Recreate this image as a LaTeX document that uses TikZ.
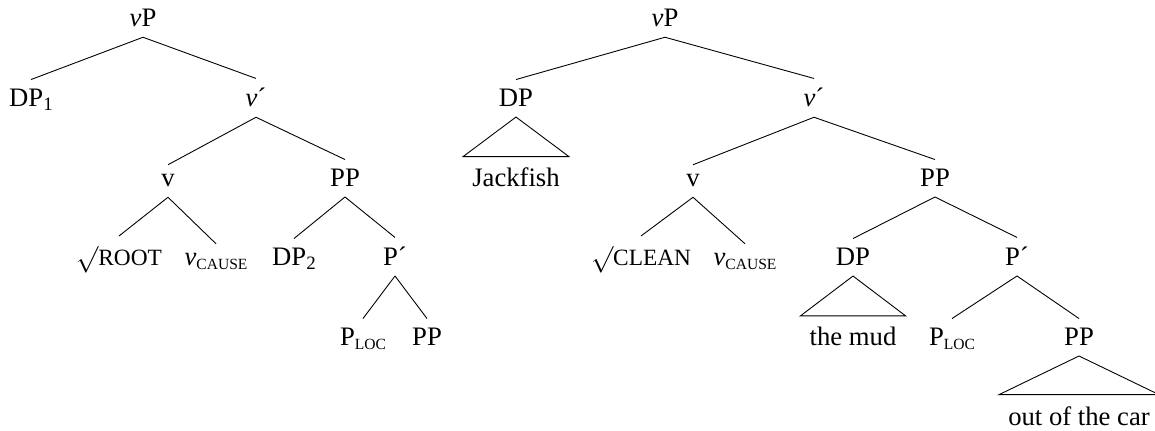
\documentclass[tikz,border=0pt]{standalone}
\usepackage{fontspec}
\setmainfont{Liberation Serif}
\newcommand{\sml}[1]{{\fontsize{10.5}{12}\selectfont #1}}
\newcommand{\lowsub}[1]{\raisebox{-1.4pt}{\fontsize{7}{8}\selectfont #1}}
\newcommand{\numsub}[1]{\raisebox{-1.6pt}{\fontsize{8.5}{9}\selectfont #1}}

\begin{document}
\begin{tikzpicture}[x=0.45pt, y=-0.45pt, font=\fontsize{12}{14}\selectfont,
		cat/.style={anchor=base, inner xsep=1pt, inner ysep=4.3pt},
		leaf/.style={anchor=base, inner xsep=4pt, inner ysep=5pt}]
		\useasboundingbox (0,0) rectangle (1155,431);
		
		% left tree
		\node[cat] (lvp) at (143,27) {\textit{v}P};
		\node[cat] (ldp) at (31,107) {DP\numsub{1}};
		\node[cat] (lvb) at (256,107) {\textit{v}´};
		\node[cat] (lv) at (168,187) {v};
		\node[cat] (lpp) at (345,187) {PP};
		\node[cat] (lroot) at (119,266) {$\surd$\sml{ROOT}};
		\node[cat] (lvc) at (216,266) {\textit{v}\lowsub{CAUSE}};
		\node[cat] (ldp2) at (294,266) {DP\numsub{2}};
		\node[cat] (lpb) at (395,266) {P´};
		\node[cat] (lploc) at (363,346) {P\lowsub{LOC}};
		\node[cat] (lpp2) at (427,346) {PP};
		
		\path (lvp.south) edge (ldp.north)
		edge (lvb.north)
		(lvb.south) edge (lv.north)
		edge (lpp.north)
		(lv.south) edge (lroot.north)
		edge (lvc.north)
		(lpp.south) edge (ldp2.north)
		edge (lpb.north)
		(lpb.south) edge (lploc.north)
		edge (lpp2.north);
		
		% right tree
		\node[cat] (rvp) at (665,27) {\textit{v}P};
		\node[cat] (rdp) at (516,107) {DP};
		\node[leaf] (jack) at (516,187) {Jackfish};
		\node[cat] (rvb) at (814,107) {\textit{v}´};
		\node[cat] (rv) at (693,187) {v};
		\node[cat] (rpp) at (935,187) {PP};
		\node[cat] (clean) at (641,266) {$\surd$\sml{CLEAN}};
		\node[cat] (rvc) at (745,266) {\textit{v}\lowsub{CAUSE}};
		\node[cat] (rdp2) at (853,266) {DP};
		\node[leaf] (mud) at (853,346) {the mud};
		\node[cat] (rpb) at (1017,266) {P´};
		\node[cat] (rploc) at (952,346) {P\lowsub{LOC}};
		\node[cat] (rpp2) at (1079,346) {PP};
		\node[leaf] (car) at (1079,425) {out of the car};
		
		\path (rvp.south) edge (rdp.north)
		edge (rvb.north)
		(rvb.south) edge (rv.north)
		edge (rpp.north)
		(rv.south) edge (clean.north)
		edge (rvc.north)
		(rpp.south) edge (rdp2.north)
		edge (rpb.north)
		(rpb.south) edge (rploc.north)
		edge (rpp2.north);
		
		% roofs
		\draw (rdp.south) -- (jack.north west) -- (jack.north east) -- cycle;
		\draw (rdp2.south) -- (mud.north west) -- (mud.north east) -- cycle;
		\draw (rpp2.south) -- (car.north west) -- (car.north east) -- cycle;
\end{tikzpicture}
\end{document}
